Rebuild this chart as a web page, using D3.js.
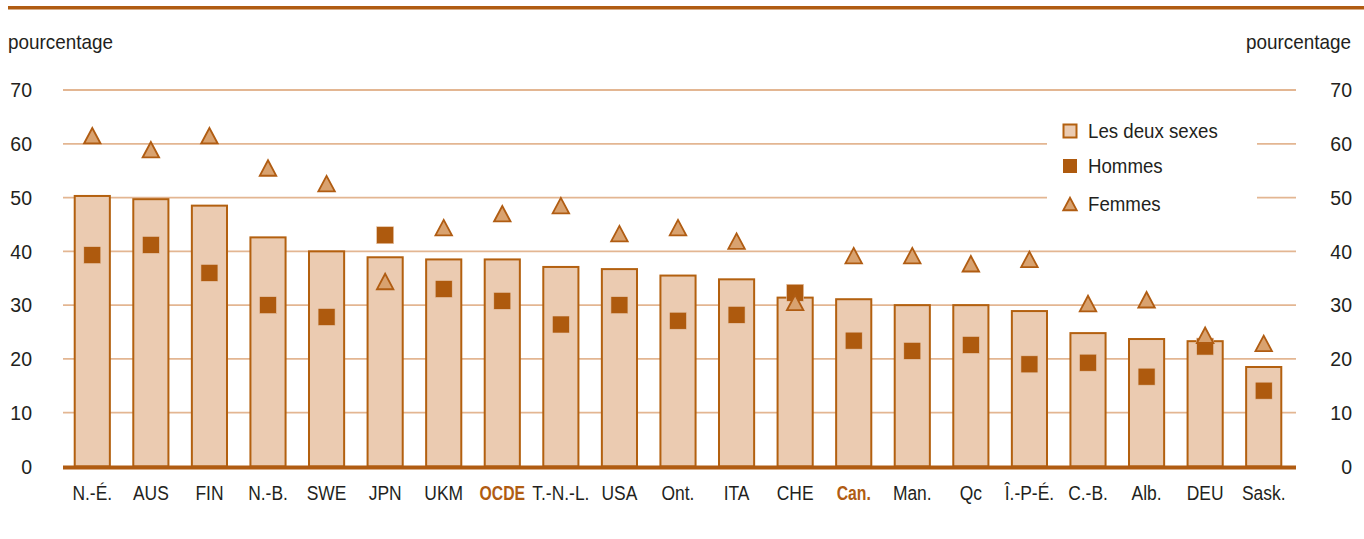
<!DOCTYPE html>
<html><head><meta charset="utf-8">
<script src="https://cdn.jsdelivr.net/npm/d3@7"></script>
<style>
html,body{margin:0;padding:0;background:#fff;}
svg{display:block;font-family:"Liberation Sans",Arial,sans-serif;}
</style></head>
<body>
<svg id="chart" width="1364" height="539"></svg>
<script>
const categories = ["N.-É.","AUS","FIN","N.-B.","SWE","JPN","UKM","OCDE","T.-N.-L.","USA","Ont.","ITA","CHE","Can.","Man.","Qc","Î.-P-É.","C.-B.","Alb.","DEU","Sask."];
const highlighted = ["OCDE","Can."];
const lesDeuxSexes = [50.3,49.7,48.5,42.6,40.0,38.9,38.5,38.5,37.1,36.7,35.5,34.8,31.4,31.1,30.0,30.0,28.9,24.8,23.7,23.3,18.5];
const hommes = [39.3,41.2,36.0,30.0,27.8,43.0,33.0,30.8,26.4,30.0,27.1,28.2,32.3,23.4,21.5,22.6,19.0,19.3,16.7,22.3,14.1];
const femmes = [61.5,58.9,61.5,55.5,52.6,34.4,44.4,47.0,48.5,43.3,44.4,41.9,30.5,39.2,39.2,37.7,38.5,30.3,31.0,24.4,22.9];
const yTicks = [0,10,20,30,40,50,60,70];
const legendLabels = ["Les deux sexes","Hommes","Femmes"];
const axisTitle = "pourcentage";

const C = {
  rule:"#b05c12", grid:"#e3b692", barFill:"#ebcbb1", barStroke:"#b3600f",
  men:"#ae5a0e", womenFill:"#d9a26f", womenStroke:"#b05c12", text:"#231f20", hi:"#b05c12"
};

// horizontally condense text around its anchor x (no condensed font installed)
function condense(sel, sx){
  sel.each(function(){
    const t = d3.select(this);
    const xv = +(t.attr("x")||0);
    t.attr("transform",`matrix(${sx},0,0,1,${xv*(1-sx)},0)`);
  });
}

const svg = d3.select("#chart");
const x = d3.scaleBand().domain(categories).range([63,1293]).paddingInner(0.4).paddingOuter(0.2);
const y = d3.scaleLinear().domain([0,70]).range([466.5,90]);
const FS = 21;

// top rule
svg.append("line").attr("x1",8).attr("x2",1364).attr("y1",7.7).attr("y2",7.7)
  .attr("stroke",C.rule).attr("stroke-width",3.5);

// axis titles
const t1 = svg.append("text").attr("x",8).attr("y",43).attr("dominant-baseline","middle")
  .attr("font-size",FS).attr("fill",C.text).text(axisTitle);
const t2 = svg.append("text").attr("x",1351).attr("y",43).attr("dominant-baseline","middle").attr("text-anchor","end")
  .attr("font-size",FS).attr("fill",C.text).text(axisTitle);
condense(t1,0.9); condense(t2,0.9);

// gridlines
svg.append("g").selectAll("line").data(yTicks.filter(d=>d>0)).join("line")
  .attr("x1",63).attr("x2",1296).attr("y1",d=>y(d)).attr("y2",d=>y(d))
  .attr("stroke",C.grid).attr("stroke-width",1.8);

// y axes (left and right)
const leftAxis = svg.append("g").attr("transform","translate(32,0)")
  .call(d3.axisLeft(y).tickValues(yTicks).tickSize(0).tickPadding(0));
const rightAxis = svg.append("g").attr("transform","translate(1352,0)")
  .call(d3.axisLeft(y).tickValues(yTicks).tickSize(0).tickPadding(0));
[leftAxis,rightAxis].forEach(g=>{
  g.select(".domain").remove();
  g.selectAll("text").attr("font-size",FS).attr("fill",C.text)
    .attr("font-family",'"Liberation Sans",Arial,sans-serif');
  condense(g.selectAll("text"),0.93);
});

// bars
svg.append("g").selectAll("rect").data(categories).join("rect")
  .attr("x",d=>x(d)).attr("width",x.bandwidth())
  .attr("y",(d,i)=>y(lesDeuxSexes[i])).attr("height",(d,i)=>y(0)-y(lesDeuxSexes[i]))
  .attr("fill",C.barFill).attr("stroke",C.barStroke).attr("stroke-width",2);

// baseline
svg.append("line").attr("x1",63).attr("x2",1296).attr("y1",y(0)+1).attr("y2",y(0)+1)
  .attr("stroke",C.rule).attr("stroke-width",4);

// x labels
const xAxis = svg.append("g").attr("transform",`translate(0,${y(0)})`)
  .call(d3.axisBottom(x).tickSize(0).tickPadding(19));
xAxis.select(".domain").remove();
xAxis.selectAll("text").attr("font-size",FS)
  .attr("font-family",'"Liberation Sans",Arial,sans-serif')
  .attr("fill",d=>highlighted.includes(d)?C.hi:C.text)
  .attr("font-weight",d=>highlighted.includes(d)?"bold":"normal");
condense(xAxis.selectAll("text").filter(d=>!highlighted.includes(d)),0.83);
condense(xAxis.selectAll("text").filter(d=>highlighted.includes(d)),0.75);

// men squares
const sq = 17;
svg.append("g").selectAll("rect").data(categories).join("rect")
  .attr("x",d=>x(d)+x.bandwidth()/2-sq/2).attr("y",(d,i)=>y(hommes[i])-sq/2)
  .attr("width",sq).attr("height",sq).attr("fill",C.men)
  .attr("stroke","#e9c8ad").attr("stroke-width",0.6);

// women triangles
const tri = (cx,cy,w,h)=>`M${cx},${cy-h/2}L${cx+w/2},${cy+h/2}L${cx-w/2},${cy+h/2}Z`;
svg.append("g").selectAll("path").data(categories).join("path")
  .attr("d",(d,i)=>tri(x(d)+x.bandwidth()/2, y(femmes[i]), 16.5, 15.5))
  .attr("fill",C.womenFill).attr("stroke",C.womenStroke).attr("stroke-width",1.8)
  .attr("stroke-linejoin","miter");

// legend
const lg = svg.append("g");
lg.append("rect").attr("x",1047).attr("y",112).attr("width",210).attr("height",110).attr("fill","#fff");
const ly = [131,166,204];
lg.append("rect").attr("x",1063.5).attr("y",ly[0]-6.5).attr("width",13).attr("height",13)
  .attr("fill",C.barFill).attr("stroke",C.barStroke).attr("stroke-width",2);
lg.append("rect").attr("x",1063).attr("y",ly[1]-7).attr("width",14).attr("height",14).attr("fill",C.men);
lg.append("path").attr("d",tri(1070,ly[2],13.5,12.5)).attr("fill",C.womenFill)
  .attr("stroke",C.womenStroke).attr("stroke-width",1.8);
const lt = lg.selectAll("text").data(legendLabels).join("text")
  .attr("x",1088).attr("y",(d,i)=>ly[i]+1).attr("dominant-baseline","middle")
  .attr("font-size",FS).attr("fill",C.text).text(d=>d);
condense(lt,0.89);
</script>
</body></html>
